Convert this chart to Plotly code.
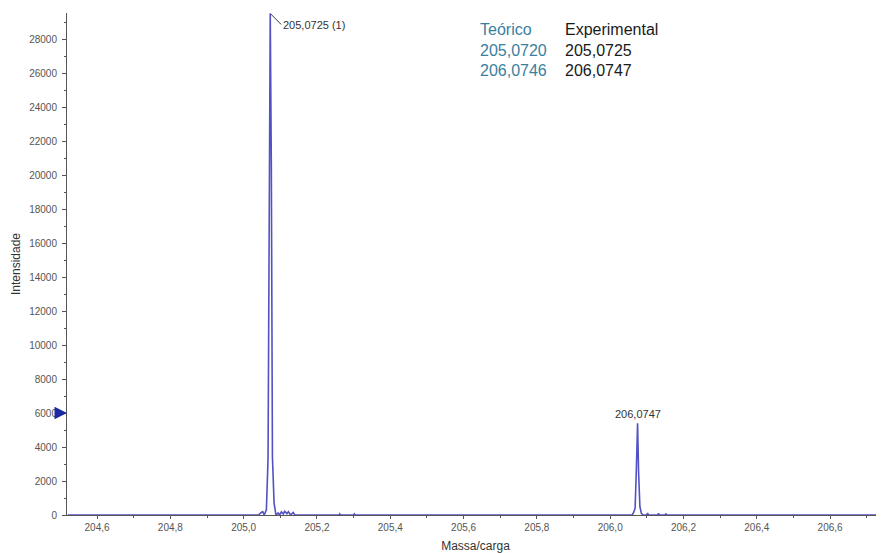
import plotly.graph_objects as go

# Profile spectrum data (m/z, intensity)
mz = [204.52, 205.040, 205.048, 205.052, 205.056, 205.062, 205.0665, 205.0690, 205.0725,
      205.0755, 205.0785, 205.083, 205.088, 205.094, 205.098, 205.103, 205.108, 205.112,
      205.118, 205.122, 205.128, 205.135, 205.140, 205.150, 205.260, 205.262, 205.264,
      205.300, 205.302, 205.304, 206.050, 206.060, 206.064, 206.068, 206.0715, 206.0747,
      206.0775, 206.081, 206.085, 206.090, 206.100, 206.102, 206.104, 206.130, 206.132,
      206.134, 206.150, 206.152, 206.154, 206.75]
intensity = [0, 0, 150, 200, 0, 300, 3300, 14800, 29500,
             20500, 3400, 700, 0, 120, 0, 180, 60, 220,
             80, 200, 0, 150, 0, 0, 0, 60, 0,
             0, 60, 0, 0, 0, 150, 400, 2800, 5400,
             2500, 500, 100, 0, 0, 120, 0, 0, 100,
             0, 0, 80, 0, 0]

peak_labels = ["205,0725 (1)", "206,0747"]
peak_x = [205.0725, 206.0747]
peak_y = [29500, 5400]

table_header = ["Teórico", "Experimental"]
teorico = ["205,0720", "206,0746"]
experimental = ["205,0725", "206,0747"]

FONT = "Liberation Sans, Arial, sans-serif"
# page body has an 8px default margin: figure starts at (8, 8)
W, H = 876, 545
L, R, T, B = 59, 0, 5, 38

fig = go.Figure()
fig.add_trace(go.Scatter(x=mz, y=intensity, mode="lines",
                         line=dict(color="#5252c4", width=1.6),
                         hoverinfo="skip", showlegend=False))

tick_font = dict(family=FONT, size=10, color="#555555")

fig.update_layout(
    width=W, height=H,
    margin=dict(l=L, r=R, t=T, b=B),
    paper_bgcolor="white", plot_bgcolor="white",
    separators=", ",
    showlegend=False,
    xaxis=dict(range=[204.518, 206.747], showgrid=False, zeroline=False,
               showline=True, linecolor="#555555", linewidth=1, automargin=False,
               tickmode="linear", tick0=204.6, dtick=0.2, tickformat=".1f",
               ticks="outside", ticklen=3, tickcolor="#555555",
               minor=dict(dtick=0.1, tick0=204.5, ticks="outside", ticklen=2, tickcolor="#555555"),
               tickfont=tick_font,
               title=dict(text="Massa/carga", font=dict(family=FONT, size=12, color="#333333"), standoff=10)),
    yaxis=dict(range=[0, 29530], showgrid=False, zeroline=False,
               showline=True, linecolor="#555555", linewidth=1, automargin=False,
               tickmode="linear", tick0=0, dtick=2000, tickformat="d",
               ticks="outside", ticklen=4, tickcolor="#555555", ticklabelstandoff=3,
               minor=dict(dtick=1000, ticks="outside", ticklen=2, tickcolor="#555555"),
               tickfont=tick_font,
               title=dict(text="Intensidade", font=dict(family=FONT, size=12, color="#333333"), standoff=5)),
)

# peak labels
fig.add_annotation(x=peak_x[0], y=peak_y[0], text=peak_labels[0], showarrow=True,
                   arrowhead=0, arrowwidth=1, arrowcolor="#333333",
                   ax=11, ay=11, xanchor="left", yanchor="middle",
                   font=dict(family=FONT, size=11, color="#333333"))
fig.add_annotation(x=peak_x[1], y=peak_y[1], text=peak_labels[1], showarrow=False,
                   yanchor="bottom", yshift=1,
                   font=dict(family=FONT, size=11, color="#333333"))

# table of theoretical/experimental masses (positions in page pixels)
col_colors = ["#3a7f9e", "#1a1a1a"]
cols = [[table_header[0]] + teorico, [table_header[1]] + experimental]
col_x = [478, 563]
row_y = [30, 50, 70]
pl, pt = 8 + L, 8 + T
pw, ph = W - L - R, H - T - B
for ci, col in enumerate(cols):
    for ri, txt in enumerate(col):
        fig.add_annotation(xref="paper", yref="paper",
                           x=(col_x[ci] - pl) / pw,
                           y=1 - (row_y[ri] - pt) / ph,
                           text=txt, showarrow=False, xanchor="left", yanchor="middle",
                           font=dict(family=FONT, size=16, color=col_colors[ci]))

# blue marker arrow on y axis at 6000
fig.add_annotation(xref="paper", yref="y", x=0, y=6000, ax=-9, ay=0,
                   text="", showarrow=True, arrowhead=2, arrowsize=1, arrowwidth=2.5,
                   arrowcolor="#1a2aa0")

fig.write_html("out.html")
